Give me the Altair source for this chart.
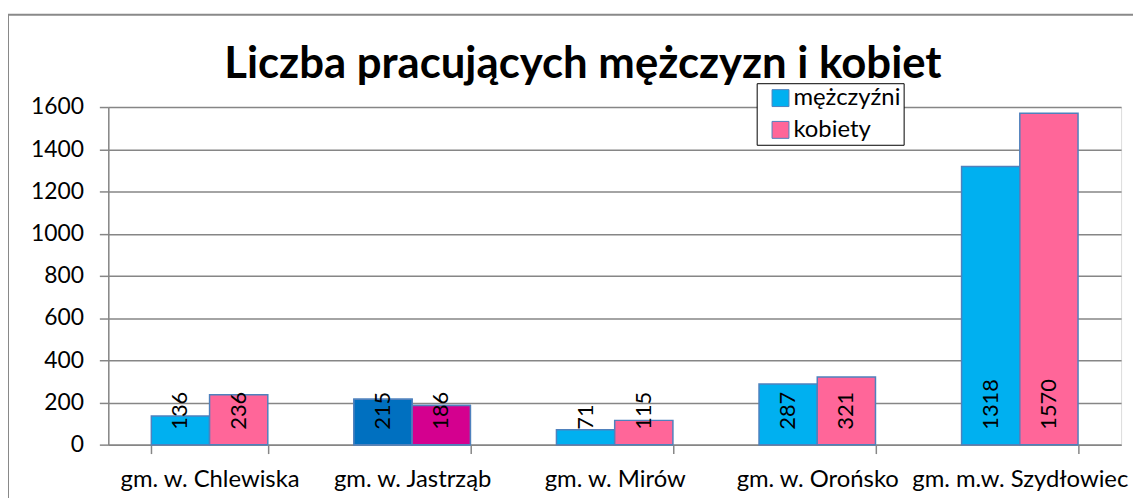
import altair as alt
import pandas as pd

gminy = ["gm. w. Chlewiska", "gm. w. Jastrząb", "gm. w. Mirów", "gm. w. Orońsko", "gm. m.w. Szydłowiec"]
mezczyzni = [136, 215, 71, 287, 1318]
kobiety = [236, 186, 115, 321, 1570]
serie = ["mężczyźni", "kobiety"]
kolory = ["#00B0F0", "#FF6699"]
# the Jastrząb bars use darker shades in the original
kolory_jastrzab = ["#0070C0", "#D4008F"]
tytul = "Liczba pracujących mężczyzn i kobiet"

rows = []
for i, g in enumerate(gminy):
    for s, vals in zip(serie, [mezczyzni, kobiety]):
        rows.append({"gmina": g, "seria": s, "wartosc": vals[i],
                     "kolor": (kolory_jastrzab if g == "gm. w. Jastrząb" else kolory)[serie.index(s)]})
df = pd.DataFrame(rows)

W, H = 1020, 340
FONT = "Lato"
FS = 24

x = alt.X("gmina:N", sort=gminy, title=None,
          scale=alt.Scale(paddingInner=0.425, paddingOuter=0.2125),
          axis=alt.Axis(labelAngle=0, labelFontSize=FS, labelFont=FONT, labelColor="black",
                        labelLimit=0, tickBand="extent", tickSize=9, tickColor="#868686",
                        tickWidth=1.5, domainColor="#868686", domainWidth=1.5,
                        labelPadding=14, grid=False))
xo = alt.XOffset("seria:N", sort=serie)

base = alt.Chart(df)

bars = base.mark_bar(stroke="#4F81BD", strokeWidth=1.5).encode(
    x=x, xOffset=xo,
    y=alt.Y("wartosc:Q", title=None,
            scale=alt.Scale(domain=[0, 1600], nice=False),
            axis=alt.Axis(values=list(range(0, 1601, 200)), format="d", labelFontSize=23,
                          labelFont=FONT, labelColor="black", tickSize=9, tickColor="#868686",
                          tickWidth=1.5, domainColor="#868686", domainWidth=1.5,
                          gridColor="#868686", gridWidth=1.5, labelPadding=16)),
    color=alt.Color("seria:N", sort=serie,
                    scale=alt.Scale(domain=serie, range=kolory),
                    legend=alt.Legend(title=None, orient="none", legendX=653, legendY=-24,
                                      strokeColor="black", padding=3, fillColor="white",
                                      symbolType="square", symbolSize=290,
                                      symbolStrokeColor="#4F81BD", symbolStrokeWidth=1,
                                      labelFontSize=FS, labelFont=FONT, labelColor="black",
                                      labelExpr="datum.label + '      '",
                                      rowPadding=8, symbolOffset=9, labelOffset=1)),
)

bars_j = base.transform_filter(alt.datum.gmina == "gm. w. Jastrząb").mark_bar(
    stroke="#4F81BD", strokeWidth=1.5).encode(
    x=x, xOffset=xo, y="wartosc:Q",
    fill=alt.Fill("kolor:N", scale=None, legend=None),
)

labels = base.mark_text(angle=270, align="left", baseline="middle", dx=15,
                        fontSize=22, font=FONT, color="black").encode(
    x=x, xOffset=xo, y=alt.datum(0), text="wartosc:Q")

frame = alt.Chart(pd.DataFrame({"a": [0]})).mark_rect(fill=None, stroke="#898989", strokeWidth=2).encode(
    x=alt.value(-101), x2=alt.value(W + 80), y=alt.value(-93), y2=alt.value(H + 80))

title = alt.Chart(pd.DataFrame({"t": [tytul]})).mark_text(
    fontSize=44, font=FONT, fontWeight="bold", color="black", align="center",
    baseline="alphabetic").encode(text="t:N", x=alt.value(478), y=alt.value(-29))

chart = alt.layer(frame, bars, bars_j, labels, title).properties(
    width=W, height=H,
    autosize=alt.AutoSizeParams(type="none"),
    padding={"left": 101, "top": 98, "right": 12, "bottom": 52},
).configure_view(stroke=None).configure(background="white")

chart.save("out.html", embed_options={"renderer": "svg", "actions": False})
